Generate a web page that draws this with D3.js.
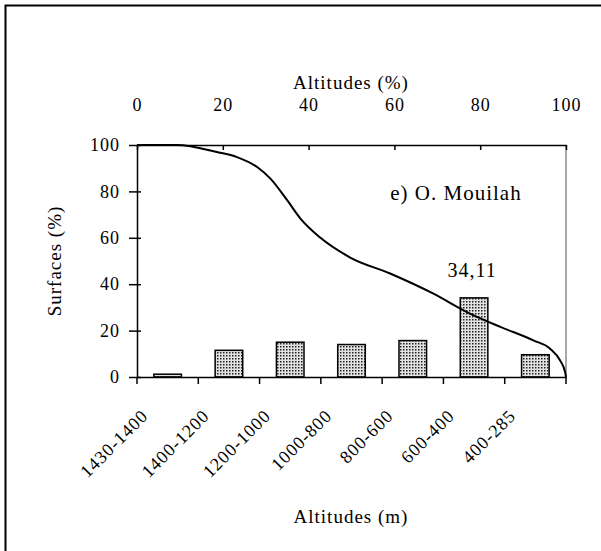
<!DOCTYPE html>
<html><head><meta charset="utf-8">
<script src="https://cdn.jsdelivr.net/npm/d3@7/dist/d3.min.js"></script>
<style>
body{margin:0;background:#fff;}
</style></head>
<body><svg id="c" width="601" height="551"></svg>
<script>
const categories = ["1430-1400","1400-1200","1200-1000","1000-800","800-600","600-400","400-285"];
const barValues = [1.2, 11.5, 15.0, 14.0, 15.7, 34.11, 9.6];
const curveX = [0, 9.3, 18.6, 23.3, 28.0, 31.1, 35.0, 38.1, 42.7, 49.7, 59.0, 69.1, 76.9, 84.7, 92.4, 96.3, 98.6, 99.8, 100];
const curveY = [100, 100, 97.0, 94.8, 90.5, 85.5, 76.2, 68.3, 60.1, 51.5, 44.6, 35.9, 28.0, 21.6, 15.8, 12.2, 7.2, 2.0, 0];
const yTicks = [0, 20, 40, 60, 80, 100];
const topTicks = [0, 20, 40, 60, 80, 100];
const labelValue = "34,11";
const chartTitle = "e) O. Mouilah";

const FONT = "'Liberation Serif', 'Times New Roman', Times, 'DejaVu Serif', serif";
const svg = d3.select("#c");
const L = 137, R = 566, T = 145, B = 377;

function styleText(sel, size) {
  sel.attr("font-family", null)
     .style("font-family", FONT).style("font-size", size + "px")
     .style("letter-spacing", "1px").style("fill", "#000");
}

// frame
svg.append("rect").attr("x",5.5).attr("y",5.5).attr("width",700).attr("height",700)
  .attr("fill","none").attr("stroke","#000").attr("stroke-width",2);

const defs = svg.append("defs");
const pat = defs.append("pattern").attr("id","dots").attr("patternUnits","userSpaceOnUse")
  .attr("width",3).attr("height",3);
pat.append("rect").attr("width",3).attr("height",3).attr("fill","#e2e2e2");
pat.append("rect").attr("x",1).attr("y",1).attr("width",1.5).attr("height",1.5).attr("fill","#222");

const x = d3.scaleBand().domain(categories).range([L, R]).paddingInner(0.55).paddingOuter(0.275);
const xb = d3.scaleBand().domain(categories).range([L, R]);
const y = d3.scaleLinear().domain([0,100]).range([B, T]);
const xp = d3.scaleLinear().domain([0,100]).range([L, R]);

// right plot border
svg.append("line").attr("x1",R).attr("x2",R).attr("y1",T).attr("y2",B).attr("stroke","#888").attr("stroke-width",1.5);

// bars
svg.selectAll(".bar").data(barValues).join("rect")
  .attr("x",(d,i)=>x(categories[i])).attr("width",x.bandwidth())
  .attr("y",d=>y(d)).attr("height",d=>B-y(d))
  .attr("fill","url(#dots)").attr("stroke","#000").attr("stroke-width",1.5);

// curve
const line = d3.line().x(d=>xp(d[0])).y(d=>y(d[1])).curve(d3.curveMonotoneX);
svg.append("path").datum(curveX.map((v,i)=>[v,curveY[i]])).attr("d",line)
  .attr("fill","none").attr("stroke","#000").attr("stroke-width",2);

// left axis
const ya = svg.append("g").attr("transform",`translate(${L},0)`)
  .call(d3.axisLeft(y).tickValues(yTicks).tickSize(8).tickSizeOuter(0).tickPadding(9));
ya.attr("font-family", null);
ya.select(".domain").attr("stroke","#000").attr("stroke-width",1.5);
ya.selectAll(".tick line").attr("stroke","#000").attr("stroke-width",1.5).attr("x2",-8).attr("x1",4);
styleText(ya.selectAll("text"), 18);

// bottom axis
const xa = svg.append("g").attr("transform",`translate(0,${B})`)
  .call(d3.axisBottom(xb).tickSize(0).tickSizeOuter(0).tickFormat(""));
xa.select(".domain").attr("stroke","#000").attr("stroke-width",1.5);
const edges = categories.map(c=>xb(c)).concat([R]);
xa.selectAll(".edge").data(edges).join("line").attr("x1",d=>d).attr("x2",d=>d).attr("y1",0).attr("y2",7)
  .attr("stroke","#000").attr("stroke-width",1.5);
styleText(svg.selectAll(".cat").data(categories).join("text")
  .attr("transform",d=>`translate(${xb(d)+xb.bandwidth()/2-18.5},417) rotate(-45)`)
  .attr("text-anchor","end").text(d=>d), 18);

// top axis
const ta = svg.append("g").attr("transform",`translate(0,${T})`)
  .call(d3.axisTop(xp).tickValues(topTicks).tickSize(-5).tickSizeOuter(0).tickPadding(34));
ta.attr("font-family", null);
ta.select(".domain").attr("stroke","#000").attr("stroke-width",1.5);
ta.selectAll(".tick line").attr("stroke","#000").attr("stroke-width",1.5);
styleText(ta.selectAll("text"), 18);

// titles
styleText(svg.append("text").attr("x",351).attr("y",89).attr("text-anchor","middle").text("Altitudes (%)"), 19);
styleText(svg.append("text").attr("x",351).attr("y",523).attr("text-anchor","middle").text("Altitudes (m)"), 19);
styleText(svg.append("text").attr("transform","translate(61,261) rotate(-90)").attr("text-anchor","middle").text("Surfaces (%)"), 19);
styleText(svg.append("text").attr("x",456).attr("y",200).attr("text-anchor","middle").text(chartTitle), 21);
styleText(svg.append("text").attr("x",x(categories[5])+x.bandwidth()/2-2).attr("y",277).attr("text-anchor","middle").text(labelValue), 20);
</script></body></html>
